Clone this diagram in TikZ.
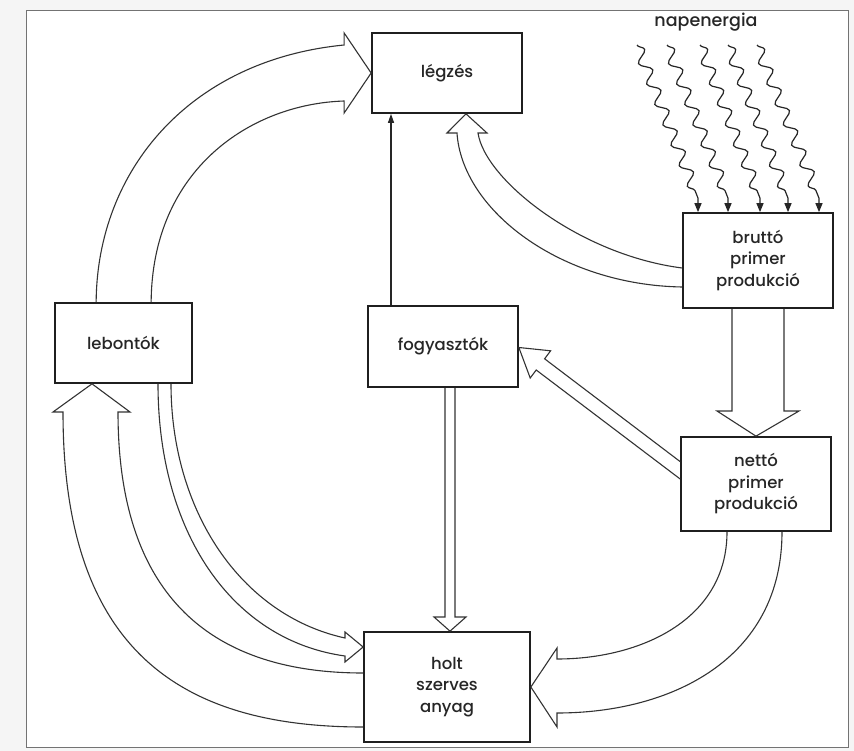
\documentclass[tikz,border=0pt]{standalone}
\usepackage{fontspec}
\setmainfont{Poppins}[UprightFont=* Medium]
\usetikzlibrary{arrows.meta,decorations.pathmorphing,calc}
\begin{document}
\begin{tikzpicture}[x=1pt,y=-1pt,
  box/.style={draw=black!88, line width=1.7pt, align=center, inner sep=0pt,
    text=black!85, font=\fontsize{16.5}{21.5}\selectfont},
  hol/.style={draw=black!80, line width=1.1pt, line join=miter},
  thinarr/.style={draw=black!85, line width=1.1pt, -{Triangle[length=9pt,width=6pt]}},
  ray/.style={draw=black!85, line width=1.2pt, -{Triangle[length=9pt,width=7pt]},
    decoration={snake, amplitude=5.5pt, segment length=22pt}},
  lbl/.style={text=black!85, font=\fontsize{17.5}{21}\selectfont, inner sep=0pt}]
\useasboundingbox (0,0) rectangle (854,751);
\fill[black!4] (0,0) rectangle (854,751);
\filldraw[fill=white, draw=black!55, line width=0.8pt] (26,10) rectangle (848,747);

% boxes
\node[box, minimum width=150pt, minimum height=80pt] (legz) at (447,73) {légzés};
\node[box, minimum width=150pt, minimum height=95pt] (brutto) at (758,260.5) {bruttó\\primer\\produkció};
\node[box, minimum width=137pt, minimum height=80pt] (leb) at (123.5,343) {lebontók};
\node[box, minimum width=150pt, minimum height=81pt] (fog) at (443,346.5) {fogyasztók};
\node[box, minimum width=150pt, minimum height=94pt] (nett) at (756,484) {nettó\\primer\\produkció};
\node[box, minimum width=166pt, minimum height=110pt] (holt) at (447,687) {holt\\szerves\\anyag};

\node[lbl] (nap) at (706,22) {napenergia};

% sun rays
\foreach \i/\sx/\ex in {1/637/698, 2/667/728, 3/700/760, 4/728/788, 5/757/819}{
  \coordinate (s\i) at (\sx,45);
  \coordinate (t\i) at (\ex,0);
  \draw[ray] (s\i) decorate[decoration=snake] {-- ($(brutto.north -| t\i)+(0,-14)$)} -- (brutto.north -| t\i);
}

% lebontok -> legzes
\draw[hol] ($(leb.north west)+(42,0)$) .. controls (97,170) and (190,60) .. ($(legz.west)+(-27,-28)$)
  -- ($(legz.west)+(-27,-40)$) -- (legz.west) -- ($(legz.west)+(-27,40)$) -- ($(legz.west)+(-27,28)$)
  .. controls (250,104) and (152,170) .. ($(leb.north west)+(97,0)$);

% brutto -> legzes
\draw[hol] ($(brutto.west)+(0,26.5)$) .. controls (560,285) and (462,210) .. (457,133)
  -- (447,133) -- ($(legz.south)+(19,0)$) -- (487,133) -- (478,133)
  .. controls (485,180) and (580,255) .. ($(brutto.west)+(0,7.5)$);

% fogyasztok -> legzes
\coordinate (cx) at (391,0);
\draw[thinarr] (fog.north -| cx) -- (legz.south -| cx);

% brutto -> netto
\draw[hol] ($(brutto.south)+(-26,0)$) -- (732,411) -- (717,411) -- (nett.north)
  -- (799,411) -- (784,411) -- ($(brutto.south)+(26,0)$);

% netto -> fogyasztok
\draw[hol] ($(nett.west)+(0,-5)$) -- (536.2,370.0) -- (530.2,378.0) -- ($(fog.east)+(0,1)$)
  -- (550.6,350.8) -- (544.6,358.8) -- ($(nett.west)+(0,-22.4)$);

% fogyasztok -> holt
\draw[hol] ($(fog.south)+(2,0)$) -- (445,617) -- (434,617) -- ($(holt.north)+(3,0)$)
  -- (466,617) -- (455,617) -- ($(fog.south)+(12,0)$);

% lebontok -> holt
\draw[hol] ($(leb.south)+(47.5,0)$) .. controls (171,510) and (240,615) .. (345,638)
  -- (345,632) -- ($(holt.west)+(0,-40)$) -- (345,662) -- (345,656)
  .. controls (230,640) and (158,530) .. ($(leb.south)+(34.5,0)$);

% holt -> lebontok
\draw[hol] ($(holt.west)+(0,40)$) .. controls (180,727) and (63,650) .. (63,412)
  -- (53,412) -- ($(leb.south)+(-31.5,0)$) -- (130,412) -- (118,412)
  .. controls (118,600) and (215,673) .. ($(holt.west)+(0,-14)$);

% netto -> holt
\draw[hol] ($(nett.south)+(-29,0)$) .. controls (727,620) and (640,659) .. (557,659)
  -- (557,648) -- (holt.east) -- (557,727) -- (557,713)
  .. controls (670,713) and (782,660) .. ($(nett.south)+(26,0)$);
\end{tikzpicture}
\end{document}
